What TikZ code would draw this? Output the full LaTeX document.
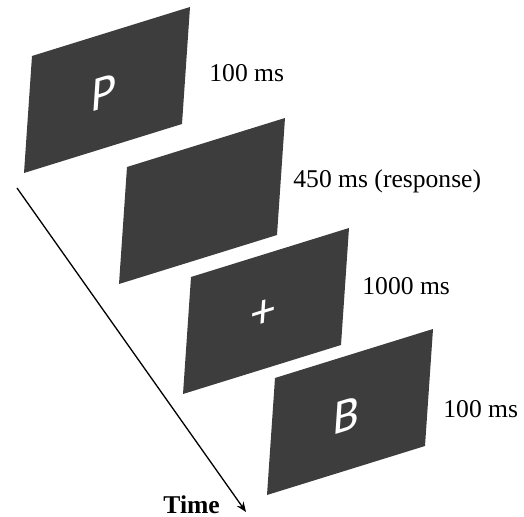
\documentclass[tikz,border=0pt]{standalone}
\usepackage{fontspec}
\setmainfont{Liberation Serif}
\newfontfamily\carlito{Carlito}
\usepackage{tikz}
\usetikzlibrary{arrows.meta,calc}
\definecolor{trScreen}{HTML}{3D3D3D}

\begin{document}
\begin{tikzpicture}[x=0.5pt,y=0.5pt,screen/.style={fill=trScreen},glyph/.style={text=white,inner sep=0,font=\carlito\fontsize{25}{25}\selectfont,transform shape,cm={0.956,0.293,0.068,1,(0,0)}},dur/.style={anchor=base west,inner sep=0,font=\fontsize{12.8}{15}\selectfont},timeline/.style={line width=.65pt,-{Stealth[length=5pt,width=4pt]}}]
\useasboundingbox (0,0) rectangle (524,-517);
% screens, top-left corners
\foreach \i/\x/\y in {1/32/-56,2/127/-167,3/191/-277,4/275/-378}
  \fill[screen] (\x,\y) coordinate (p\i) -- ++(158,49) -- ++(-8,-117) -- ++(-158,-49) -- cycle;
\node[glyph] (sP) at ($(p1)+(72,-37)$) {P};
\node[glyph] (sfix) at ($(p3)+(72,-37)$) {+};
\node[glyph] (sB) at ($(p4)+(72,-37)$) {B};
% durations
\node[dur] (d1) at (209,-82) {100 ms};
\node[dur] (d2) at (293,-188) {450 ms (response)};
\node[dur] (d3) at (362,-295) {1000 ms};
\node[dur] (d4) at (443,-418) {100 ms};
% time axis
\coordinate (t0) at (17,-188);
\coordinate (t1) at (246,-512);
\draw[timeline] (t0) -- (t1);
\node[dur,font=\fontsize{12.8}{15}\selectfont\bfseries] (tm) at (163,-513) {Time};
\end{tikzpicture}
\end{document}
